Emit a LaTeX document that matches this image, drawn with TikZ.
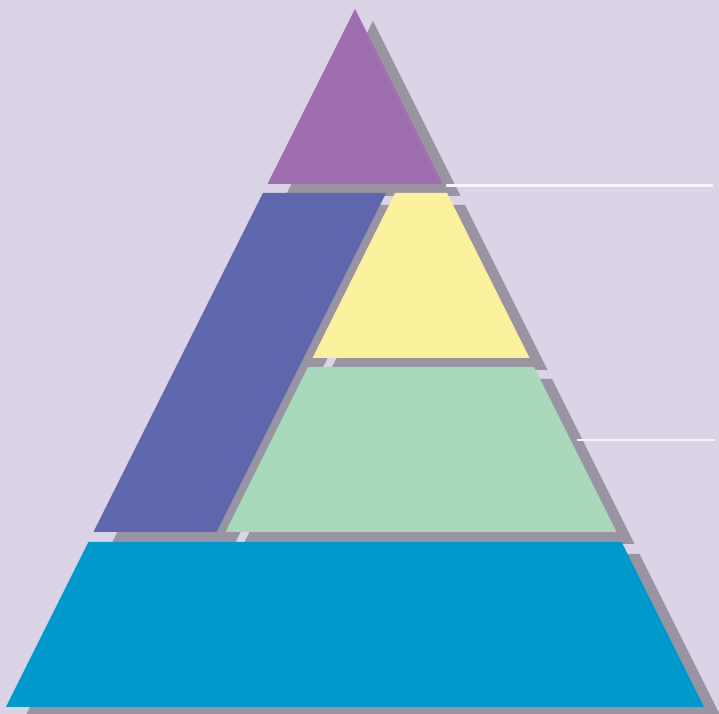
\documentclass[tikz,border=0pt]{standalone}
\usepackage{tikz}
\usepackage{xcolor}
\definecolor{pyrbg}{RGB}{218,212,230}
\definecolor{pyrshadow}{RGB}{154,148,162}
\definecolor{pyrpurple}{RGB}{160,110,176}
\definecolor{pyrindigo}{RGB}{96,102,174}
\definecolor{pyryellow}{RGB}{251,241,156}
\definecolor{pyrgreen}{RGB}{168,216,186}
\definecolor{pyrblue}{RGB}{0,153,204}
\definecolor{leadwhite}{RGB}{246,244,250}
\definecolor{leadgray}{RGB}{164,152,172}
\tikzset{
  bandshadow/.style={fill=pyrshadow, shift={(18,12)}},
  leader/.style={draw=leadwhite, line width=2.1pt},
  leadershadow/.style={draw=leadgray, line width=1.8pt, shift={(3,3.5)}}
}
% tiers of the pyramid, pixel coordinates
\newcommand{\pyrApex}{(355,9) -- (442.5,184) -- (267.5,184) -- cycle}
\newcommand{\pyrSide}{(263,193) -- (386,193) -- (216.5,532) -- (93.5,532) -- cycle}
\newcommand{\pyrUpper}{(395,193) -- (447,193) -- (529.5,358) -- (312.5,358) -- cycle}
\newcommand{\pyrLower}{(308,367) -- (534,367) -- (616.5,532) -- (225.5,532) -- cycle}
\newcommand{\pyrBase}{(88.5,542) -- (621.5,542) -- (704,707) -- (6,707) -- cycle}

\begin{document}
\begin{tikzpicture}[x=0.025cm, y=-0.025cm]
        \fill[pyrbg] (0,0) rectangle (719,714);
        \useasboundingbox (0,0) rectangle (719,714);
        \coordinate (apexend) at (446,185.5);
        \coordinate (apexlabel) at (713,185.5);
        \coordinate (lowerend) at (577,440);
        \coordinate (lowerlabel) at (715,440);
        % shadows first
        \foreach \tier in {\pyrApex,\pyrSide,\pyrUpper,\pyrLower,\pyrBase}
          \fill[bandshadow] \tier;
        \draw[leadershadow] (apexend) -- (apexlabel);
        \draw[leadershadow] (lowerend) -- (lowerlabel);
        % tiers
        \fill[pyrpurple] \pyrApex;
        \fill[pyrindigo] \pyrSide;
        \fill[pyryellow] \pyrUpper;
        \fill[pyrgreen]  \pyrLower;
        \fill[pyrblue]   \pyrBase;
        \draw[leader] (apexend) -- (apexlabel);
        \draw[leader] (lowerend) -- (lowerlabel);
      \end{tikzpicture}
\end{document}
